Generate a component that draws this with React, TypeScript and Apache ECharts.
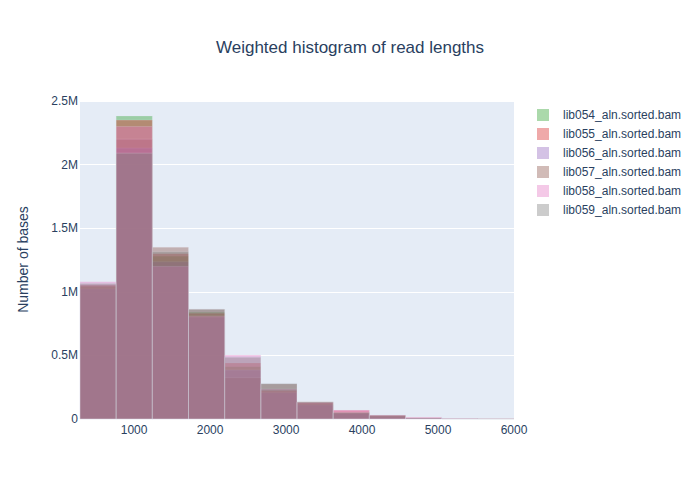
import React, { useEffect, useRef } from "react";
import * as echarts from "echarts";

const binEdges = [288, 764, 1240, 1716, 2192, 2668, 3144, 3620, 4096, 4572, 5048, 5524, 6000];
const xTicks = [1000, 2000, 3000, 4000, 5000, 6000];
const seriesNames = [
  "lib054_aln.sorted.bam",
  "lib055_aln.sorted.bam",
  "lib056_aln.sorted.bam",
  "lib057_aln.sorted.bam",
  "lib058_aln.sorted.bam",
  "lib059_aln.sorted.bam",
];
const lib054 = [1040000, 2382000, 1280000, 840000, 411000, 230000, 120000, 50000, 25000, 6000, 2000, 800];
const lib055 = [1050000, 2350000, 1300000, 831000, 440000, 222000, 130000, 68000, 30000, 12000, 3000, 1000];
const lib056 = [1022000, 2130000, 1237000, 800000, 385000, 207000, 110000, 45000, 18000, 5000, 1500, 500];
const lib057 = [1053000, 2200000, 1350000, 862000, 325000, 275000, 136000, 55000, 28000, 7000, 2000, 1000];
const lib058 = [1079000, 2300000, 1200000, 810000, 503000, 236000, 130000, 70000, 31000, 13000, 3000, 1000];
const lib059 = [1065000, 2090000, 1315000, 862000, 485000, 280000, 134000, 50000, 30000, 8000, 2000, 1000];
const seriesValues = [lib054, lib055, lib056, lib057, lib058, lib059];
const colors = [
  "rgba(44,160,44,0.4)",
  "rgba(214,39,40,0.4)",
  "rgba(148,103,189,0.4)",
  "rgba(140,86,75,0.4)",
  "rgba(227,119,194,0.4)",
  "rgba(127,127,127,0.4)",
];

const FONT = '"Liberation Sans", Arial, sans-serif';
const TXT = "#2a3f5f";

export default function App() {
  const ref = useRef<HTMLDivElement>(null);
  useEffect(() => {
    document.body.style.margin = "0";
    const chart = echarts.init(ref.current!, null, { renderer: "svg" });
    const series = seriesNames.map((name, si) => ({
      name,
      type: "custom",
      itemStyle: { color: colors[si] },
      data: seriesValues[si].map((v, i) => [binEdges[i], binEdges[i + 1], v]),
      encode: { x: [0, 1], y: 2 },
      renderItem: (params: any, api: any) => {
        const x0 = api.value(0);
        const x1 = api.value(1);
        const y = api.value(2);
        const p0 = api.coord([x0, y]);
        const p1 = api.coord([x1, 0]);
        return {
          type: "rect",
          shape: { x: p0[0], y: p0[1], width: p1[0] - p0[0], height: p1[1] - p0[1] },
          style: { fill: colors[si], stroke: "rgba(229,236,246,0.4)", lineWidth: 0.5 },
        };
      },
    }));
    chart.setOption({
      animation: false,
      backgroundColor: "#ffffff",
      textStyle: { fontFamily: FONT },
      title: {
        text: "Weighted histogram of read lengths",
        left: "center",
        top: 34,
        textStyle: { fontFamily: FONT, fontSize: 17, fontWeight: "normal", color: TXT },
      },
      legend: {
        orient: "vertical",
        left: 532,
        top: 104,
        itemWidth: 12,
        itemHeight: 12,
        itemGap: 7,
        icon: "rect",
        data: seriesNames,
        textStyle: { fontFamily: FONT, fontSize: 12, color: TXT, padding: [0, 0, 0, 9] },
      },
      grid: { left: 80, top: 100, width: 434, height: 319, backgroundColor: "#e5ecf6", show: true, borderWidth: 0 },
      xAxis: {
        type: "value",
        min: 288,
        max: 6000,
        axisLine: { show: false },
        axisTick: { show: false },
        splitLine: { show: false },
        axisLabel: {
          customValues: xTicks,
          margin: 5,
          fontFamily: FONT,
          fontSize: 12,
          color: TXT,
          formatter: (v: number) => String(v),
        },
      },
      yAxis: {
        type: "value",
        min: 0,
        max: 2508000,
        interval: 500000,
        name: "Number of bases",
        nameLocation: "middle",
        nameGap: 50,
        nameTextStyle: { fontFamily: FONT, fontSize: 14, color: TXT },
        axisLine: { show: false },
        axisTick: { show: false },
        splitLine: { lineStyle: { color: "#ffffff", width: 1 } },
        axisLabel: {
          margin: 2,
          fontFamily: FONT,
          fontSize: 12,
          color: TXT,
          formatter: (v: number) => {
            if (v % 500000 !== 0) return "";
            return v === 0 ? "0" : v / 1000000 + "M";
          },
        },
      },
      series,
    });
    return () => chart.dispose();
  }, []);
  return <div ref={ref} style={{ width: 700, height: 500 }} />;
}
